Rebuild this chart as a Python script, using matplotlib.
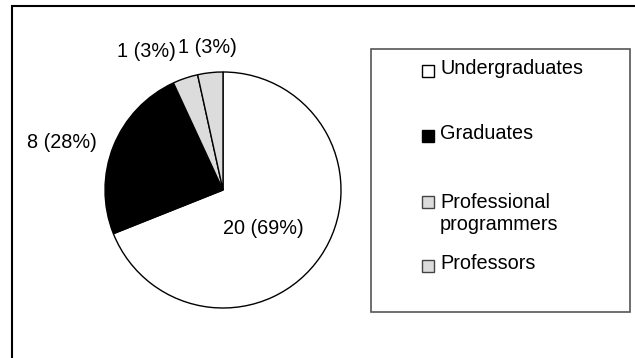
import matplotlib
matplotlib.use("Agg")
import matplotlib.pyplot as plt
from matplotlib.patches import Rectangle

plt.rcParams['font.family'] = ['Liberation Sans', 'DejaVu Sans']

# data (slice sizes as drawn, labels as printed)
categories = ['Undergraduates', 'Graduates', 'Professional\nprogrammers', 'Professors']
counts = [20, 7, 1, 1]
slice_labels = ['20 (69%)', '8 (28%)', '1 (3%)', '1 (3%)']
colors = ['white', 'black', '#dcdcdc', '#dcdcdc']

W, H = 635, 358
fig = plt.figure(figsize=(W / 100, H / 100), dpi=100)


def fx(px):
    return px / W


def fy(py):
    return 1 - py / H


# outer frame (right/bottom edges fall outside the image)
fig.patches.append(Rectangle((fx(12), fy(370)), fx(640) - fx(12), fy(6) - fy(370),
                             transform=fig.transFigure, fill=False,
                             edgecolor='black', linewidth=1.5))

# pie: centre (223, 190) px, radius 118 px
cx, cy, r = 223, 190, 118
ax = fig.add_axes([fx(cx - r), fy(cy + r), 2 * r / W, 2 * r / H])
ax.pie(counts, colors=colors, startangle=90, counterclock=False, radius=1,
       wedgeprops=dict(edgecolor='black', linewidth=1.0))
ax.set_xlim(-1, 1)
ax.set_ylim(-1, 1)
ax.set_aspect('auto')
ax.axis('off')

label_pos = [(0.343, -0.325), (-1.369, 0.40), (-0.648, 1.17), (-0.131, 1.205)]
for txt, (lx, ly) in zip(slice_labels, label_pos):
    ax.text(lx, ly, txt, ha='center', va='center', fontsize=14.3, clip_on=False)

# legend box
fig.patches.append(Rectangle((fx(371), fy(312)), fx(630) - fx(371), fy(49) - fy(312),
                             transform=fig.transFigure, fill=True, facecolor='white',
                             edgecolor='#555555', linewidth=1.2))

# square sits on the first line, text anchored on its last line
square_base = [74.3, 139.3, 205.7, 269.3]
text_base = [74.3, 139.3, 229.5, 269.3]
for name, col, sb, tb in zip(categories, colors, square_base, text_base):
    edge = '#444444' if col == '#dcdcdc' else 'black'
    fig.patches.append(Rectangle((fx(422), fy(sb + 2.5)), 12 / W, 12 / H,
                                 transform=fig.transFigure, facecolor=col,
                                 edgecolor=edge, linewidth=1.0))
    fig.text(fx(440), fy(tb), name, ha='left', va='baseline', fontsize=14.3,
             linespacing=1.2)

fig.savefig('out.png', dpi=100)
